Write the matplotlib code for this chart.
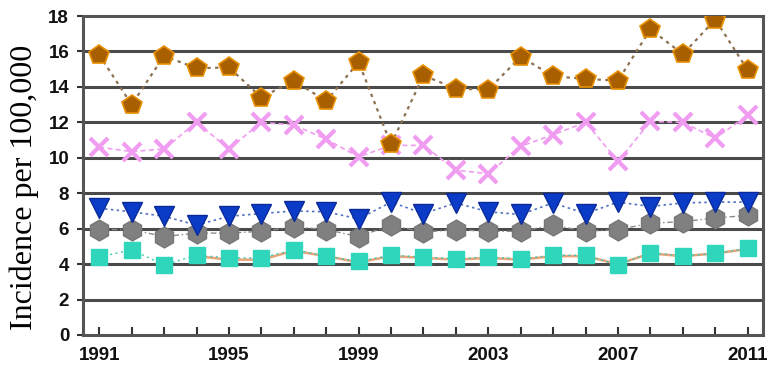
import matplotlib
matplotlib.use("Agg")
import matplotlib.pyplot as plt

years = list(range(1991, 2012))

brown = [15.8, 13.0, 15.75, 15.05, 15.1, 13.4, 14.35, 13.2, 15.4, 10.75,
         14.65, 13.9, 13.85, 15.7, 14.6, 14.45, 14.35, 17.25, 15.85, 17.8, 14.95]
pink = [10.6, 10.35, 10.5, 12.0, 10.5, 12.0, 11.85, 11.05, 10.05, 10.7,
        10.7, 9.3, 9.1, 10.65, 11.3, 12.0, 9.8, 12.05, 12.0, 11.1, 12.4]
blue = [7.15, 6.95, 6.7, 6.2, 6.7, 6.85, 7.0, 6.95, 6.55, 7.5,
        6.85, 7.45, 6.95, 6.8, 7.45, 6.85, 7.5, 7.25, 7.45, 7.5, 7.5]
gray = [5.95, 5.95, 5.55, 5.75, 5.75, 5.85, 6.1, 5.95, 5.55, 6.2,
        5.8, 5.95, 5.85, 5.85, 6.2, 5.85, 5.95, 6.3, 6.4, 6.6, 6.75]
teal = [4.4, 4.8, 3.95, 4.5, 4.35, 4.35, 4.8, 4.45, 4.15, 4.5,
        4.4, 4.3, 4.4, 4.3, 4.5, 4.5, 3.95, 4.65, 4.45, 4.6, 4.9]
orange_years = list(range(1994, 2012))
orange = [4.45, 4.25, 4.25, 4.75, 4.45, 4.1, 4.45, 4.35, 4.25, 4.35,
          4.25, 4.45, 4.45, 4.0, 4.6, 4.45, 4.6, 4.85]

ytick_vals = list(range(0, 19, 2))
xtick_labels = [1991, 1995, 1999, 2003, 2007, 2011]

fig = plt.figure(figsize=(7.73, 3.68), dpi=100)
ax = fig.add_axes([0.1074, 0.0897, 0.8796, 0.8668])

for y in ytick_vals[1:-1]:
    ax.axhline(y, color="#4a4a4a", lw=2.2, zorder=1)

ax.plot(orange_years, orange, color="#e9a47a", lw=1.8, zorder=2)
ax.plot(years, teal, color="#40c8b0", lw=1, ls=(0, (1.5, 2.5)), marker="s",
        ms=11, mfc="#2fd6bb", mec="#2fd6bb", zorder=3)
ax.plot(years, gray, color="#8a8a8a", lw=1, ls=(0, (4, 2, 1, 2)), marker="h",
        ms=15, mfc="#808080", mec="#777777", zorder=3)
ax.plot(years, blue, color="#5070c0", lw=1.2, ls=(0, (1.5, 2)), marker="v",
        ms=14, mfc="#0a3cc8", mec="#0a2a9a", zorder=4)
ax.plot(years, pink, color="#f09cf0", lw=1.2, ls=(0, (3, 2)), marker="x",
        ms=13, mew=3, zorder=3)
ax.plot(years, brown, color="#8c7050", lw=1.6, ls=(0, (1.5, 2)), marker="p",
        ms=15, mfc="#a85f00", mec="#e89000", mew=1.2, zorder=4)

ax.set_xlim(1990.5, 2011.47)
ax.set_ylim(0, 18)
ax.set_yticks(ytick_vals)
ax.set_xticks(years, minor=True)
ax.set_xticks(xtick_labels)
ax.tick_params(axis="x", which="both", direction="in", length=6, width=1.5,
               color="#333333", pad=9)
ax.tick_params(axis="y", length=4, width=1.5, color="#333333", pad=6)
for lab in ax.get_xticklabels() + ax.get_yticklabels():
    lab.set_fontweight("bold")
    lab.set_fontsize(13.5)
    lab.set_family("Liberation Sans")
    lab.set_color("#111111")

for s in ax.spines.values():
    s.set_linewidth(2.2)
    s.set_color("#555555")

fig.text(24 / 773, 0.49, "Incidence per 100,000", rotation=90, ha="center",
         va="center", family="Liberation Serif", fontsize=23)

fig.savefig("out.png", dpi=100)
